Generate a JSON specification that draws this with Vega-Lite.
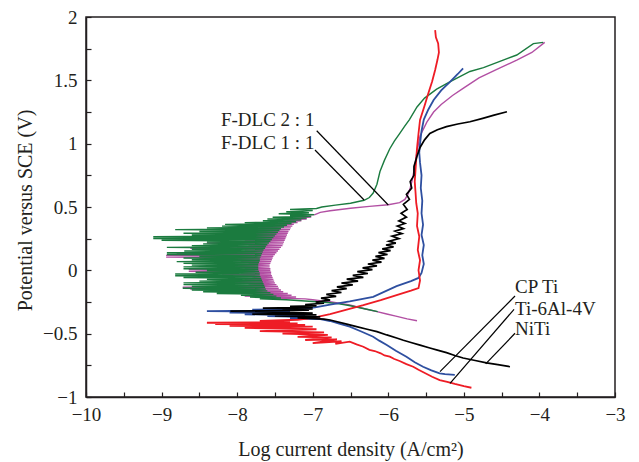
{
"$schema":"https://vega.github.io/schema/vega-lite/v6.json",
"width":529,"height":380,
"autosize":{"type":"none"},
"padding":{"left":86,"top":17,"right":24,"bottom":65},
"background":"white",
"config":{"view":{"stroke":"#231f20","strokeWidth":1.5},"font":"Liberation Serif"},
"datasets":{
"curves":[
{"s":"m","x":-5.62,"y":-0.398},{"s":"m","x":-5.75,"y":-0.383},{"s":"m","x":-5.9,"y":-0.362},{"s":"m","x":-6.02,"y":-0.345},{"s":"m","x":-6.15,"y":-0.326},{"s":"m","x":-6.3,"y":-0.305},{"s":"m","x":-6.51,"y":-0.274},{"s":"m","x":-6.65,"y":-0.26},{"s":"m","x":-6.77,"y":-0.248},{"s":"m","x":-6.9,"y":-0.24},{"s":"m","x":-7.0,"y":-0.232},
{"s":"m","x":-7.1,"y":-0.225},{"s":"m","x":-7.55,"y":-0.218},{"s":"m","x":-7.22,"y":-0.211},{"s":"m","x":-7.9,"y":-0.204},{"s":"m","x":-7.28,"y":-0.197},{"s":"m","x":-7.75,"y":-0.19},{"s":"m","x":-7.33,"y":-0.183},{"s":"m","x":-8.05,"y":-0.176},{"s":"m","x":-7.39,"y":-0.169},{"s":"m","x":-8.3,"y":-0.162},{"s":"m","x":-7.42,"y":-0.155},{"s":"m","x":-8.62,"y":-0.148},{"s":"m","x":-7.45,"y":-0.141},{"s":"m","x":-8.72,"y":-0.134},{"s":"m","x":-7.46,"y":-0.127},{"s":"m","x":-8.0,"y":-0.12},{"s":"m","x":-7.48,"y":-0.113},{"s":"m","x":-7.85,"y":-0.106},{"s":"m","x":-7.5,"y":-0.099},{"s":"m","x":-8.1,"y":-0.092},{"s":"m","x":-7.51,"y":-0.085},{"s":"m","x":-7.9,"y":-0.078},{"s":"m","x":-7.52,"y":-0.071},{"s":"m","x":-8.0,"y":-0.064},{"s":"m","x":-7.53,"y":-0.057},{"s":"m","x":-7.8,"y":-0.05},{"s":"m","x":-7.54,"y":-0.043},{"s":"m","x":-8.2,"y":-0.036},{"s":"m","x":-7.55,"y":-0.029},{"s":"m","x":-7.95,"y":-0.022},{"s":"m","x":-7.55,"y":-0.015},{"s":"m","x":-8.64,"y":-0.008},{"s":"m","x":-7.56,"y":-0.001},{"s":"m","x":-8.64,"y":0.006},{"s":"m","x":-7.56,"y":0.013},{"s":"m","x":-7.9,"y":0.02},{"s":"m","x":-7.57,"y":0.027},{"s":"m","x":-8.1,"y":0.034},{"s":"m","x":-7.57,"y":0.041},{"s":"m","x":-7.85,"y":0.048},{"s":"m","x":-7.56,"y":0.055},{"s":"m","x":-8.3,"y":0.062},{"s":"m","x":-7.55,"y":0.069},{"s":"m","x":-7.95,"y":0.076},{"s":"m","x":-7.54,"y":0.083},{"s":"m","x":-8.5,"y":0.09},{"s":"m","x":-7.53,"y":0.097},{"s":"m","x":-8.94,"y":0.104},{"s":"m","x":-7.52,"y":0.111},{"s":"m","x":-8.94,"y":0.118},{"s":"m","x":-7.5,"y":0.125},{"s":"m","x":-8.8,"y":0.132},{"s":"m","x":-7.48,"y":0.139},{"s":"m","x":-8.1,"y":0.146},{"s":"m","x":-7.46,"y":0.153},{"s":"m","x":-7.9,"y":0.16},{"s":"m","x":-7.44,"y":0.167},{"s":"m","x":-8.62,"y":0.174},{"s":"m","x":-7.42,"y":0.181},{"s":"m","x":-8.0,"y":0.188},{"s":"m","x":-7.4,"y":0.195},{"s":"m","x":-7.85,"y":0.202},{"s":"m","x":-7.39,"y":0.209},{"s":"m","x":-8.4,"y":0.216},{"s":"m","x":-7.38,"y":0.223},{"s":"m","x":-7.9,"y":0.23},{"s":"m","x":-7.37,"y":0.237},{"s":"m","x":-8.05,"y":0.244},{"s":"m","x":-7.36,"y":0.251},{"s":"m","x":-7.8,"y":0.258},{"s":"m","x":-7.35,"y":0.265},{"s":"m","x":-8.19,"y":0.272},{"s":"m","x":-7.34,"y":0.279},{"s":"m","x":-7.9,"y":0.286},{"s":"m","x":-7.33,"y":0.293},{"s":"m","x":-8.19,"y":0.3},{"s":"m","x":-7.32,"y":0.307},{"s":"m","x":-7.75,"y":0.314},{"s":"m","x":-7.3,"y":0.321},{"s":"m","x":-8.16,"y":0.328},{"s":"m","x":-7.29,"y":0.335},{"s":"m","x":-7.7,"y":0.342},{"s":"m","x":-7.27,"y":0.349},{"s":"m","x":-7.6,"y":0.356},{"s":"m","x":-7.25,"y":0.363},{"s":"m","x":-7.5,"y":0.37},{"s":"m","x":-7.2,"y":0.377},{"s":"m","x":-7.45,"y":0.384},{"s":"m","x":-7.15,"y":0.391},{"s":"m","x":-7.35,"y":0.398},{"s":"m","x":-7.08,"y":0.405},{"s":"m","x":-7.25,"y":0.412},{"s":"m","x":-7.02,"y":0.42},{"s":"m","x":-7.3,"y":0.43},{"s":"m","x":-6.97,"y":0.44},
{"s":"m","x":-6.9,"y":0.458},{"s":"m","x":-6.77,"y":0.47},{"s":"m","x":-6.5,"y":0.49},{"s":"m","x":-6.25,"y":0.505},{"s":"m","x":-6.0,"y":0.518},{"s":"m","x":-5.85,"y":0.535},{"s":"m","x":-5.78,"y":0.56},{"s":"m","x":-5.74,"y":0.6},{"s":"m","x":-5.71,"y":0.65},{"s":"m","x":-5.68,"y":0.72},{"s":"m","x":-5.65,"y":0.82},{"s":"m","x":-5.62,"y":0.94},{"s":"m","x":-5.58,"y":1.06},{"s":"m","x":-5.49,"y":1.17},{"s":"m","x":-5.4,"y":1.25},{"s":"m","x":-5.3,"y":1.31},{"s":"m","x":-5.15,"y":1.38},{"s":"m","x":-5.0,"y":1.44},{"s":"m","x":-4.8,"y":1.52},{"s":"m","x":-4.55,"y":1.59},{"s":"m","x":-4.3,"y":1.66},{"s":"m","x":-4.1,"y":1.72},{"s":"m","x":-3.93,"y":1.8},

{"s":"g","x":-6.14,"y":-0.326},{"s":"g","x":-6.3,"y":-0.305},{"s":"g","x":-6.5,"y":-0.28},{"s":"g","x":-6.65,"y":-0.265},{"s":"g","x":-6.77,"y":-0.256},{"s":"g","x":-6.9,"y":-0.25},{"s":"g","x":-7.1,"y":-0.242},{"s":"g","x":-7.25,"y":-0.236},
{"s":"g","x":-7.35,"y":-0.232},{"s":"g","x":-7.7,"y":-0.225},{"s":"g","x":-7.42,"y":-0.218},{"s":"g","x":-7.83,"y":-0.211},{"s":"g","x":-7.48,"y":-0.204},{"s":"g","x":-7.95,"y":-0.197},{"s":"g","x":-7.52,"y":-0.19},{"s":"g","x":-8.27,"y":-0.183},{"s":"g","x":-7.56,"y":-0.176},{"s":"g","x":-8.45,"y":-0.169},{"s":"g","x":-7.6,"y":-0.162},{"s":"g","x":-8.6,"y":-0.155},{"s":"g","x":-7.62,"y":-0.148},{"s":"g","x":-8.72,"y":-0.141},{"s":"g","x":-7.63,"y":-0.134},{"s":"g","x":-8.6,"y":-0.127},{"s":"g","x":-7.64,"y":-0.12},{"s":"g","x":-8.71,"y":-0.113},{"s":"g","x":-7.65,"y":-0.106},{"s":"g","x":-8.71,"y":-0.099},{"s":"g","x":-7.66,"y":-0.092},{"s":"g","x":-8.5,"y":-0.085},{"s":"g","x":-7.67,"y":-0.078},{"s":"g","x":-8.4,"y":-0.071},{"s":"g","x":-7.68,"y":-0.064},{"s":"g","x":-8.71,"y":-0.057},{"s":"g","x":-7.69,"y":-0.05},{"s":"g","x":-8.82,"y":-0.043},{"s":"g","x":-7.7,"y":-0.036},{"s":"g","x":-8.82,"y":-0.029},{"s":"g","x":-7.7,"y":-0.022},{"s":"g","x":-8.55,"y":-0.015},{"s":"g","x":-7.71,"y":-0.008},{"s":"g","x":-8.4,"y":-0.001},{"s":"g","x":-7.72,"y":0.006},{"s":"g","x":-8.71,"y":0.013},{"s":"g","x":-7.72,"y":0.02},{"s":"g","x":-8.71,"y":0.027},{"s":"g","x":-7.72,"y":0.034},{"s":"g","x":-8.6,"y":0.041},{"s":"g","x":-7.72,"y":0.048},{"s":"g","x":-8.71,"y":0.055},{"s":"g","x":-7.71,"y":0.062},{"s":"g","x":-8.8,"y":0.069},{"s":"g","x":-7.7,"y":0.076},{"s":"g","x":-8.6,"y":0.083},{"s":"g","x":-7.7,"y":0.09},{"s":"g","x":-8.71,"y":0.097},{"s":"g","x":-7.69,"y":0.104},{"s":"g","x":-8.5,"y":0.111},{"s":"g","x":-7.68,"y":0.118},{"s":"g","x":-8.93,"y":0.125},{"s":"g","x":-7.67,"y":0.132},{"s":"g","x":-8.93,"y":0.139},{"s":"g","x":-7.66,"y":0.146},{"s":"g","x":-8.7,"y":0.153},{"s":"g","x":-7.65,"y":0.16},{"s":"g","x":-8.6,"y":0.167},{"s":"g","x":-7.63,"y":0.174},{"s":"g","x":-8.93,"y":0.181},{"s":"g","x":-7.62,"y":0.188},{"s":"g","x":-8.6,"y":0.195},{"s":"g","x":-7.6,"y":0.202},{"s":"g","x":-8.45,"y":0.209},{"s":"g","x":-7.58,"y":0.216},{"s":"g","x":-8.4,"y":0.223},{"s":"g","x":-7.56,"y":0.23},{"s":"g","x":-9.0,"y":0.237},{"s":"g","x":-7.54,"y":0.244},{"s":"g","x":-9.11,"y":0.251},{"s":"g","x":-7.52,"y":0.258},{"s":"g","x":-9.11,"y":0.265},{"s":"g","x":-7.5,"y":0.272},{"s":"g","x":-8.6,"y":0.279},{"s":"g","x":-7.48,"y":0.286},{"s":"g","x":-8.71,"y":0.293},{"s":"g","x":-7.46,"y":0.3},{"s":"g","x":-8.5,"y":0.307},{"s":"g","x":-7.44,"y":0.314},{"s":"g","x":-8.82,"y":0.321},{"s":"g","x":-7.42,"y":0.328},{"s":"g","x":-8.4,"y":0.335},{"s":"g","x":-7.38,"y":0.342},{"s":"g","x":-8.2,"y":0.349},{"s":"g","x":-7.34,"y":0.356},{"s":"g","x":-8.16,"y":0.363},{"s":"g","x":-7.28,"y":0.37},{"s":"g","x":-7.9,"y":0.377},{"s":"g","x":-7.22,"y":0.384},{"s":"g","x":-7.66,"y":0.391},{"s":"g","x":-7.15,"y":0.398},{"s":"g","x":-7.6,"y":0.405},{"s":"g","x":-7.08,"y":0.412},{"s":"g","x":-7.53,"y":0.419},{"s":"g","x":-7.02,"y":0.426},{"s":"g","x":-7.3,"y":0.433},{"s":"g","x":-6.98,"y":0.44},{"s":"g","x":-7.45,"y":0.447},{"s":"g","x":-7.05,"y":0.455},{"s":"g","x":-7.35,"y":0.463},{"s":"g","x":-7.0,"y":0.472},{"s":"g","x":-7.3,"y":0.48},{"s":"g","x":-6.95,"y":0.488},
{"s":"g","x":-6.88,"y":0.5},{"s":"g","x":-6.7,"y":0.515},{"s":"g","x":-6.5,"y":0.53},{"s":"g","x":-6.32,"y":0.553},{"s":"g","x":-6.25,"y":0.575},{"s":"g","x":-6.2,"y":0.61},{"s":"g","x":-6.15,"y":0.68},{"s":"g","x":-6.11,"y":0.78},{"s":"g","x":-6.05,"y":0.87},{"s":"g","x":-5.98,"y":0.96},{"s":"g","x":-5.92,"y":1.02},{"s":"g","x":-5.85,"y":1.08},{"s":"g","x":-5.78,"y":1.14},{"s":"g","x":-5.72,"y":1.19},{"s":"g","x":-5.62,"y":1.29},{"s":"g","x":-5.52,"y":1.36},{"s":"g","x":-5.36,"y":1.43},{"s":"g","x":-5.18,"y":1.49},{"s":"g","x":-4.92,"y":1.57},{"s":"g","x":-4.74,"y":1.6},{"s":"g","x":-4.48,"y":1.66},{"s":"g","x":-4.3,"y":1.7},{"s":"g","x":-4.08,"y":1.79},{"s":"g","x":-3.95,"y":1.8},

{"s":"b","x":-5.12,"y":-0.826},{"s":"b","x":-5.25,"y":-0.82},{"s":"b","x":-5.32,"y":-0.813},{"s":"b","x":-5.43,"y":-0.79},{"s":"b","x":-5.54,"y":-0.761},{"s":"b","x":-5.65,"y":-0.725},{"s":"b","x":-5.76,"y":-0.682},{"s":"b","x":-5.9,"y":-0.635},{"s":"b","x":-6.02,"y":-0.589},{"s":"b","x":-6.12,"y":-0.555},{"s":"b","x":-6.2,"y":-0.524},{"s":"b","x":-6.35,"y":-0.485},{"s":"b","x":-6.51,"y":-0.445},{"s":"b","x":-6.65,"y":-0.42},{"s":"b","x":-6.77,"y":-0.4},{"s":"b","x":-6.9,"y":-0.385},{"s":"b","x":-7.3,"y":-0.38},{"s":"b","x":-7.0,"y":-0.37},{"s":"b","x":-7.6,"y":-0.362},{"s":"b","x":-7.1,"y":-0.355},{"s":"b","x":-7.9,"y":-0.347},{"s":"b","x":-7.2,"y":-0.34},{"s":"b","x":-8.1,"y":-0.333},{"s":"b","x":-7.3,"y":-0.328},{"s":"b","x":-8.4,"y":-0.322},{"s":"b","x":-7.4,"y":-0.316},{"s":"b","x":-7.8,"y":-0.311},{"s":"b","x":-7.1,"y":-0.305},{"s":"b","x":-6.95,"y":-0.29},{"s":"b","x":-6.77,"y":-0.27},{"s":"b","x":-6.51,"y":-0.245},{"s":"b","x":-6.2,"y":-0.21},{"s":"b","x":-5.89,"y":-0.125},{"s":"b","x":-5.7,"y":-0.085},{"s":"b","x":-5.6,"y":-0.06},{"s":"b","x":-5.56,"y":-0.02},{"s":"b","x":-5.53,"y":0.05},{"s":"b","x":-5.55,"y":0.12},{"s":"b","x":-5.53,"y":0.2},{"s":"b","x":-5.56,"y":0.28},{"s":"b","x":-5.54,"y":0.36},{"s":"b","x":-5.56,"y":0.45},{"s":"b","x":-5.55,"y":0.55},{"s":"b","x":-5.57,"y":0.65},{"s":"b","x":-5.56,"y":0.75},{"s":"b","x":-5.58,"y":0.85},{"s":"b","x":-5.59,"y":0.93},{"s":"b","x":-5.58,"y":1.0},{"s":"b","x":-5.56,"y":1.1},{"s":"b","x":-5.53,"y":1.19},{"s":"b","x":-5.47,"y":1.27},{"s":"b","x":-5.4,"y":1.345},{"s":"b","x":-5.3,"y":1.42},{"s":"b","x":-5.18,"y":1.489},{"s":"b","x":-5.08,"y":1.55},{"s":"b","x":-5.01,"y":1.595},

{"s":"r","x":-4.9,"y":-0.927},{"s":"r","x":-5.0,"y":-0.915},{"s":"r","x":-5.12,"y":-0.897},{"s":"r","x":-5.22,"y":-0.88},{"s":"r","x":-5.32,"y":-0.866},{"s":"r","x":-5.42,"y":-0.84},{"s":"r","x":-5.51,"y":-0.813},{"s":"r","x":-5.6,"y":-0.785},{"s":"r","x":-5.67,"y":-0.761},{"s":"r","x":-5.76,"y":-0.74},{"s":"r","x":-5.85,"y":-0.716},{"s":"r","x":-5.92,"y":-0.7},{"s":"r","x":-5.98,"y":-0.682},{"s":"r","x":-6.05,"y":-0.672},{"s":"r","x":-6.1,"y":-0.655},{"s":"r","x":-6.18,"y":-0.637},{"s":"r","x":-6.25,"y":-0.628},{"s":"r","x":-6.33,"y":-0.603},{"s":"r","x":-6.42,"y":-0.585},{"s":"r","x":-6.51,"y":-0.563},{"s":"r","x":-6.7,"y":-0.58},{"s":"r","x":-6.62,"y":-0.56},{"s":"r","x":-7.0,"y":-0.575},{"s":"r","x":-6.68,"y":-0.545},{"s":"r","x":-7.1,"y":-0.55},{"s":"r","x":-6.75,"y":-0.53},{"s":"r","x":-7.2,"y":-0.525},{"s":"r","x":-6.8,"y":-0.51},{"s":"r","x":-7.4,"y":-0.5},{"s":"r","x":-6.85,"y":-0.49},{"s":"r","x":-7.7,"y":-0.48},{"s":"r","x":-6.95,"y":-0.465},{"s":"r","x":-7.9,"y":-0.455},{"s":"r","x":-7.0,"y":-0.445},{"s":"r","x":-8.1,"y":-0.438},{"s":"r","x":-7.1,"y":-0.43},{"s":"r","x":-8.29,"y":-0.424},{"s":"r","x":-7.2,"y":-0.418},{"s":"r","x":-8.4,"y":-0.414},{"s":"r","x":-7.3,"y":-0.408},{"s":"r","x":-7.7,"y":-0.4},{"s":"r","x":-7.2,"y":-0.39},{"s":"r","x":-7.0,"y":-0.375},{"s":"r","x":-6.77,"y":-0.345},{"s":"r","x":-6.55,"y":-0.31},{"s":"r","x":-6.33,"y":-0.275},{"s":"r","x":-6.1,"y":-0.235},{"s":"r","x":-5.89,"y":-0.195},{"s":"r","x":-5.7,"y":-0.16},{"s":"r","x":-5.6,"y":-0.14},{"s":"r","x":-5.58,"y":-0.08},{"s":"r","x":-5.6,"y":0.0},{"s":"r","x":-5.58,"y":0.08},{"s":"r","x":-5.61,"y":0.16},{"s":"r","x":-5.59,"y":0.266},{"s":"r","x":-5.62,"y":0.35},{"s":"r","x":-5.61,"y":0.45},{"s":"r","x":-5.63,"y":0.53},{"s":"r","x":-5.64,"y":0.62},{"s":"r","x":-5.65,"y":0.7},{"s":"r","x":-5.64,"y":0.79},{"s":"r","x":-5.63,"y":0.88},{"s":"r","x":-5.62,"y":0.963},{"s":"r","x":-5.6,"y":1.08},{"s":"r","x":-5.58,"y":1.187},{"s":"r","x":-5.52,"y":1.3},{"s":"r","x":-5.47,"y":1.398},{"s":"r","x":-5.42,"y":1.49},{"s":"r","x":-5.38,"y":1.582},{"s":"r","x":-5.35,"y":1.66},{"s":"r","x":-5.33,"y":1.72},{"s":"r","x":-5.34,"y":1.792},{"s":"r","x":-5.37,"y":1.84},{"s":"r","x":-5.38,"y":1.897},

{"s":"k","x":-4.39,"y":-0.761},{"s":"k","x":-4.55,"y":-0.745},{"s":"k","x":-4.7,"y":-0.73},{"s":"k","x":-4.85,"y":-0.712},{"s":"k","x":-5.01,"y":-0.692},{"s":"k","x":-5.12,"y":-0.672},{"s":"k","x":-5.23,"y":-0.65},{"s":"k","x":-5.35,"y":-0.63},{"s":"k","x":-5.45,"y":-0.613},{"s":"k","x":-5.58,"y":-0.59},{"s":"k","x":-5.7,"y":-0.57},{"s":"k","x":-5.8,"y":-0.552},{"s":"k","x":-5.89,"y":-0.534},{"s":"k","x":-6.02,"y":-0.51},{"s":"k","x":-6.15,"y":-0.484},{"s":"k","x":-6.28,"y":-0.465},{"s":"k","x":-6.42,"y":-0.445},{"s":"k","x":-6.55,"y":-0.425},{"s":"k","x":-6.77,"y":-0.392},{"s":"k","x":-6.85,"y":-0.385},{"s":"k","x":-7.2,"y":-0.375},{"s":"k","x":-6.9,"y":-0.368},{"s":"k","x":-7.5,"y":-0.36},{"s":"k","x":-6.95,"y":-0.352},{"s":"k","x":-7.8,"y":-0.345},{"s":"k","x":-7.0,"y":-0.338},{"s":"k","x":-8.09,"y":-0.322},{"s":"k","x":-7.05,"y":-0.315},{"s":"k","x":-7.4,"y":-0.31},{"s":"k","x":-7.0,"y":-0.305},{"s":"k","x":-7.66,"y":-0.298},{"s":"k","x":-7.0,"y":-0.292},{"s":"k","x":-7.3,"y":-0.285},{"s":"k","x":-6.95,"y":-0.28},{"s":"k","x":-7.1,"y":-0.27},{"s":"k","x":-6.85,"y":-0.26},
{"s":"k","x":-6.96,"y":-0.25},{"s":"k","x":-6.77,"y":-0.235},{"s":"k","x":-6.89,"y":-0.22},{"s":"k","x":-6.69,"y":-0.205},{"s":"k","x":-6.82,"y":-0.19},{"s":"k","x":-6.62,"y":-0.175},{"s":"k","x":-6.75,"y":-0.16},{"s":"k","x":-6.55,"y":-0.145},{"s":"k","x":-6.68,"y":-0.13},{"s":"k","x":-6.47,"y":-0.115},{"s":"k","x":-6.62,"y":-0.1},{"s":"k","x":-6.4,"y":-0.085},{"s":"k","x":-6.55,"y":-0.07},{"s":"k","x":-6.33,"y":-0.055},{"s":"k","x":-6.47,"y":-0.04},{"s":"k","x":-6.27,"y":-0.025},{"s":"k","x":-6.41,"y":-0.01},{"s":"k","x":-6.21,"y":0.005},{"s":"k","x":-6.34,"y":0.02},{"s":"k","x":-6.15,"y":0.035},{"s":"k","x":-6.27,"y":0.05},{"s":"k","x":-6.09,"y":0.065},{"s":"k","x":-6.21,"y":0.08},{"s":"k","x":-6.05,"y":0.095},{"s":"k","x":-6.17,"y":0.11},{"s":"k","x":-6.01,"y":0.125},{"s":"k","x":-6.13,"y":0.14},{"s":"k","x":-5.97,"y":0.155},{"s":"k","x":-6.08,"y":0.17},{"s":"k","x":-5.93,"y":0.185},{"s":"k","x":-6.03,"y":0.2},{"s":"k","x":-5.9,"y":0.215},{"s":"k","x":-5.99,"y":0.23},{"s":"k","x":-5.86,"y":0.25},{"s":"k","x":-5.95,"y":0.27},{"s":"k","x":-5.82,"y":0.29},{"s":"k","x":-5.91,"y":0.31},{"s":"k","x":-5.8,"y":0.33},{"s":"k","x":-5.88,"y":0.35},{"s":"k","x":-5.78,"y":0.37},{"s":"k","x":-5.86,"y":0.39},{"s":"k","x":-5.76,"y":0.42},{"s":"k","x":-5.83,"y":0.45},{"s":"k","x":-5.75,"y":0.48},{"s":"k","x":-5.8,"y":0.52},{"s":"k","x":-5.72,"y":0.56},{"s":"k","x":-5.76,"y":0.6},{"s":"k","x":-5.69,"y":0.65},{"s":"k","x":-5.71,"y":0.7},{"s":"k","x":-5.66,"y":0.75},{"s":"k","x":-5.66,"y":0.82},{"s":"k","x":-5.62,"y":0.9},
{"s":"k","x":-5.58,"y":0.97},{"s":"k","x":-5.52,"y":1.03},{"s":"k","x":-5.45,"y":1.08},{"s":"k","x":-5.35,"y":1.11},{"s":"k","x":-5.23,"y":1.134},{"s":"k","x":-5.08,"y":1.155},{"s":"k","x":-4.92,"y":1.173},{"s":"k","x":-4.75,"y":1.2},{"s":"k","x":-4.6,"y":1.225},{"s":"k","x":-4.43,"y":1.252}
],
"leaders":[
{"x":-6.947,"y":1.102,"x2":-6.0,"y2":0.516},
{"x":-6.97,"y":0.95,"x2":-6.32,"y2":0.555},
{"x":-4.323,"y":-0.203,"x2":-5.316,"y2":-0.8},
{"x":-4.336,"y":-0.308,"x2":-5.183,"y2":-0.892},
{"x":-4.323,"y":-0.497,"x2":-4.711,"y2":-0.739}
],
"labels":[
{"x":-8.214,"y":1.14,"t":"F-DLC 2 : 1"},
{"x":-8.214,"y":0.956,"t":"F-DLC 1 : 1"},
{"x":-4.323,"y":-0.18,"t":"CP Ti"},
{"x":-4.323,"y":-0.353,"t":"Ti-6Al-4V"},
{"x":-4.323,"y":-0.512,"t":"NiTi"}
]
},
"encoding":{
"x":{"field":"x","type":"quantitative","scale":{"domain":[-10,-3],"nice":false,"zero":false},
"axis":{"values":[-10,-9.5,-9,-8.5,-8,-7.5,-7,-6.5,-6,-5.5,-5,-4.5,-4,-3.5,-3],"labelExpr":"datum.value % 1 === 0 ? format(datum.value, 'd') : ''","grid":false,"tickSize":-5,"tickWidth":1.2,"tickColor":"#231f20","domainColor":"#231f20","domainWidth":1.5,"labelFontSize":19,"labelColor":"#231f20","labelPadding":13.5,"labelFont":"Liberation Serif","labelOverlap":false,"labelFlush":false,"title":"Log current density (A/cm²)","titleFont":"Liberation Serif","titleFontSize":20,"titleFontWeight":"normal","titleColor":"#231f20","titleY":58,"titleBaseline":"alphabetic"}},
"y":{"field":"y","type":"quantitative","scale":{"domain":[-1,2],"nice":false,"zero":false},
"axis":{"values":[-1,-0.75,-0.5,-0.25,0,0.25,0.5,0.75,1,1.25,1.5,1.75,2],"labelExpr":"abs(datum.value*2 - round(datum.value*2)) < 0.01 ? format(datum.value, '~g') : ''","grid":false,"tickSize":-5,"tickWidth":1.2,"tickColor":"#231f20","domainColor":"#231f20","domainWidth":1.5,"labelFontSize":19,"labelColor":"#231f20","labelPadding":14,"labelFont":"Liberation Serif","labelOverlap":false,"labelFlush":false,"title":"Potential versus SCE (V)","titleFont":"Liberation Serif","titleFontSize":20,"titleFontWeight":"normal","titleColor":"#231f20","titleX":-55,"titleY":193,"titleAngle":-90,"titleBaseline":"alphabetic"}}
},
"layer":[
{"data":{"name":"curves"},"transform":[{"filter":"datum.s === 'm'"}],"mark":{"type":"line","color":"#b24fa3","strokeWidth":1.4},"encoding":{"order":{"value":null}}},
{"data":{"name":"curves"},"transform":[{"filter":"datum.s === 'g'"}],"mark":{"type":"line","color":"#1b7b3f","strokeWidth":1.4},"encoding":{"order":{"value":null}}},
{"data":{"name":"curves"},"transform":[{"filter":"datum.s === 'b'"}],"mark":{"type":"line","color":"#2e4fa0","strokeWidth":1.8},"encoding":{"order":{"value":null}}},
{"data":{"name":"curves"},"transform":[{"filter":"datum.s === 'r'"}],"mark":{"type":"line","color":"#ee1c25","strokeWidth":1.8},"encoding":{"order":{"value":null}}},
{"data":{"name":"curves"},"transform":[{"filter":"datum.s === 'k'"}],"mark":{"type":"line","color":"#000000","strokeWidth":1.7},"encoding":{"order":{"value":null}}},
{"data":{"name":"leaders"},"mark":{"type":"rule","color":"#000000","strokeWidth":1.2},"encoding":{"x2":{"field":"x2"},"y2":{"field":"y2"}}},
{"data":{"name":"labels"},"mark":{"type":"text","align":"left","baseline":"alphabetic","font":"Liberation Serif","fontSize":19,"color":"#231f20"},"encoding":{"text":{"field":"t"}}}
]
}
